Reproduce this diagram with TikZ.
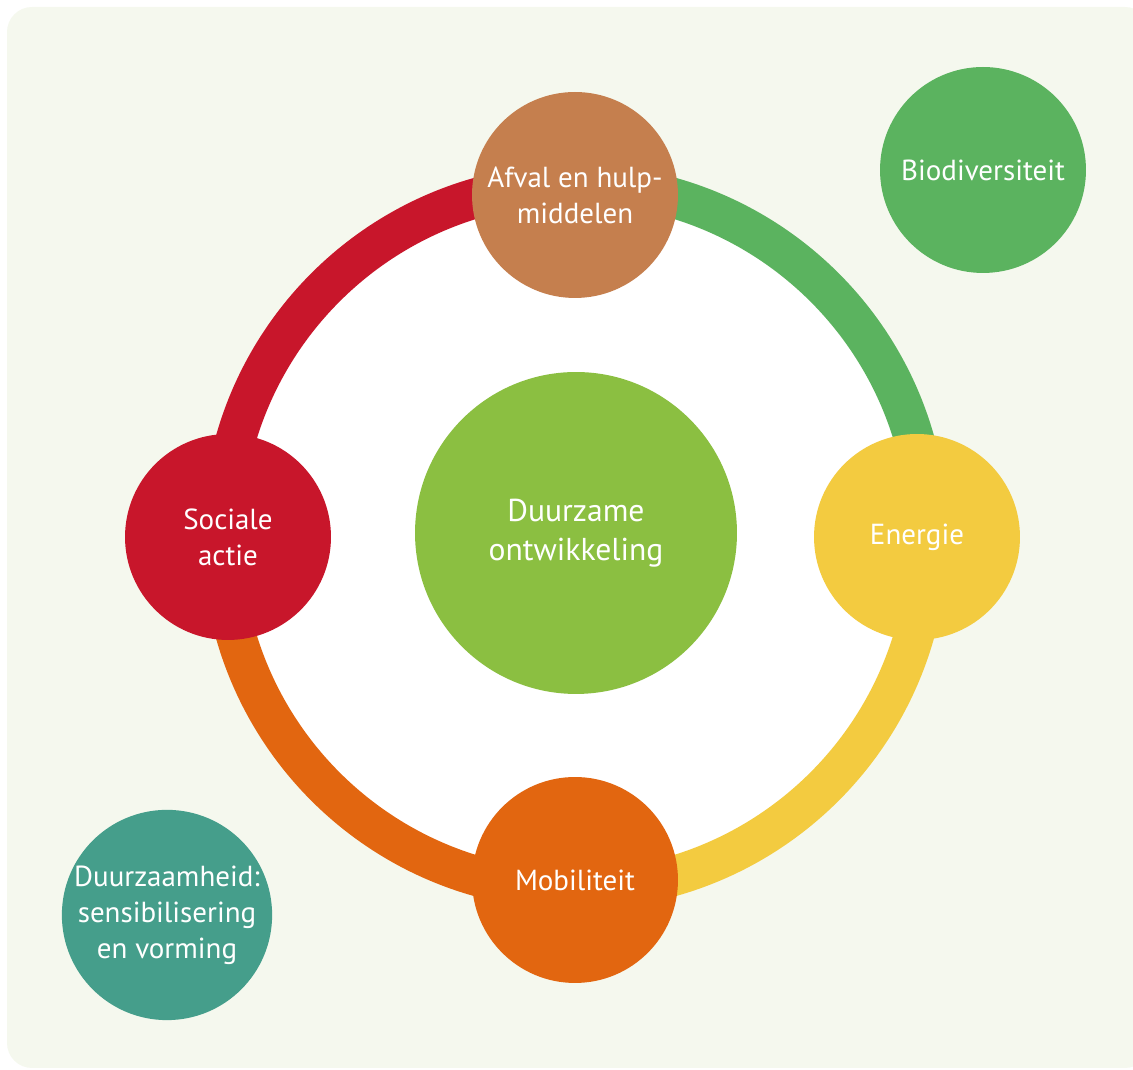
\documentclass[tikz,border=0pt]{standalone}
\usepackage{xcolor}
\usepackage{fontspec}
\setmainfont{PT Sans}
\usepackage{tikz}

\definecolor{achtergrond}{RGB}{245,248,238}
\definecolor{rood}{RGB}{200,22,43}
\definecolor{bruin}{RGB}{197,127,78}
\definecolor{groen}{RGB}{91,179,95}
\definecolor{geel}{RGB}{243,203,64}
\definecolor{oranje}{RGB}{226,102,16}
\definecolor{lichtgroen}{RGB}{139,191,65}
\definecolor{blauwgroen}{RGB}{69,158,139}

\tikzset{
  thema/.style={circle, fill=#1, text=white, align=center, inner sep=0pt,
    minimum size=4.12cm, font=\fontsize{16.5}{20.5}\selectfont},
  ring/.style={line width=0.8cm, draw=#1}
}

\begin{document}
\begin{tikzpicture}[x=0.02cm, y=0.02cm]
			% kader
			\useasboundingbox (0,0) rectangle (1133,1070);
			\fill[achtergrond, rounded corners=0.5cm] (7,2) rectangle (1150,1063);
			% middelpunt van de ring
			\coordinate (midden) at (575,533);
			\fill[white] (midden) circle (335);
			% ring in vier kwarten
			\draw[ring=rood] ([shift={(180:7.06cm)}]midden) arc [start angle=180, end angle=90, radius=7.06cm];
			\draw[ring=groen] ([shift={(90:7.06cm)}]midden) arc [start angle=90, end angle=0, radius=7.06cm];
			\draw[ring=geel] ([shift={(0:7.06cm)}]midden) arc [start angle=0, end angle=-90, radius=7.06cm];
			\draw[ring=oranje] ([shift={(-90:7.06cm)}]midden) arc [start angle=-90, end angle=-180, radius=7.06cm];
			% cirkels
			\node[thema=lichtgroen, minimum size=6.44cm, font=\fontsize{18}{22}\selectfont] (duurzaam) at (576,537) {Duurzame\\ontwikkeling};
			\node[thema=bruin] (afval) at (575,875) {Afval en hulp-\\middelen};
			\node[thema=rood] (sociaal) at (228,533) {Sociale\\actie};
			\node[thema=geel] (energie) at (917,533) {Energie};
			\node[thema=oranje] (mobiliteit) at (575,190) {Mobiliteit};
			\node[thema=groen] (bio) at (983,900) {Biodiversiteit};
			\node[thema=blauwgroen] (vorming) at (167,155) {Duurzaamheid:\\sensibilisering\\en vorming};
		\end{tikzpicture}
\end{document}
